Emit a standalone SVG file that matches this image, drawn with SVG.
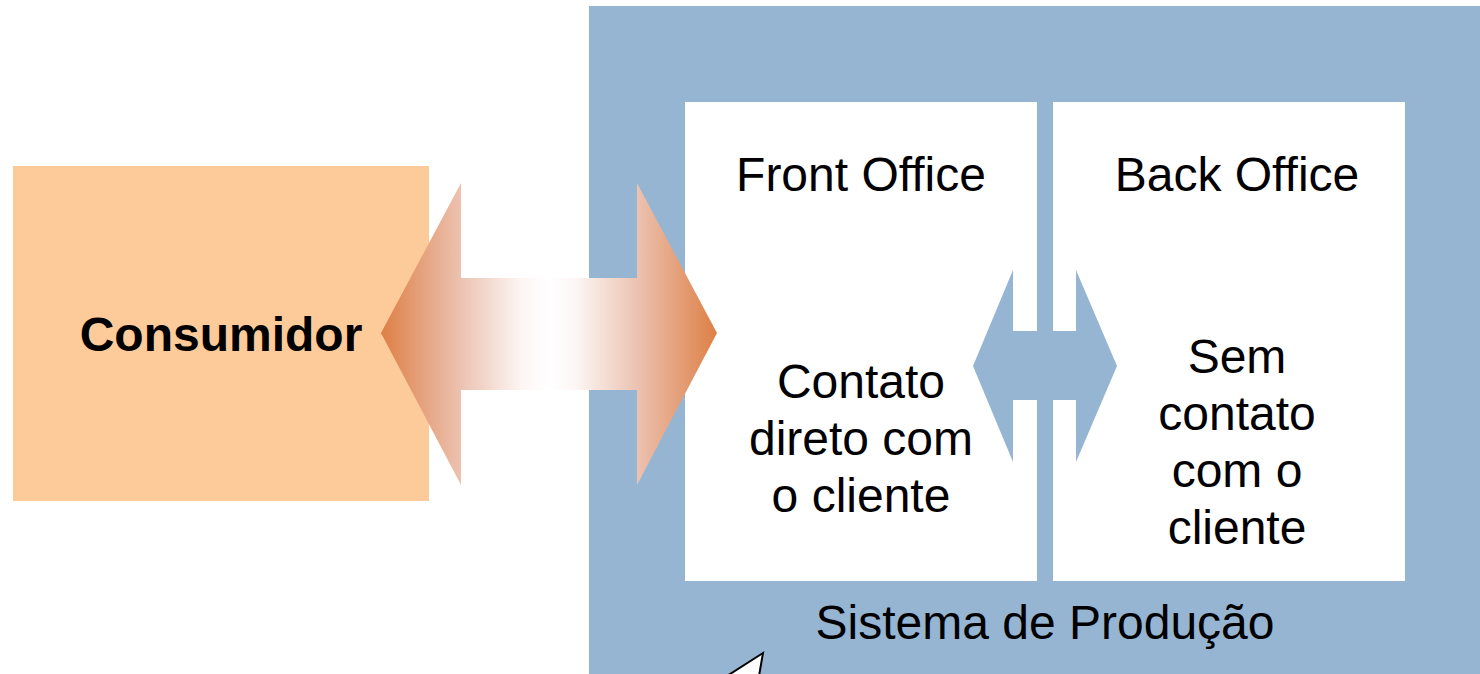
<svg xmlns="http://www.w3.org/2000/svg" width="1480" height="674" viewBox="0 0 1480 674">
<defs>
<style>
.t{font-family:"Liberation Sans",Arial,sans-serif;font-size:48px;fill:#000;text-anchor:middle}
.b{font-weight:bold}
</style>
<linearGradient id="og" x1="381" y1="0" x2="717" y2="0" gradientUnits="userSpaceOnUse">
<stop offset="0" stop-color="#DE7F45"/>
<stop offset="0.24" stop-color="#ECC3B2"/>
<stop offset="0.42" stop-color="#FCF6F4"/>
<stop offset="0.5" stop-color="#FFFFFF"/>
<stop offset="0.58" stop-color="#FCF6F4"/>
<stop offset="0.76" stop-color="#ECC3B2"/>
<stop offset="1" stop-color="#DE7F45"/>
</linearGradient>
</defs>
<rect width="1480" height="674" fill="#fff"/>
<g id="sistema">
<rect x="589" y="6" width="891" height="668" fill="#95B5D3"/>
<text class="t" x="1045" y="639">Sistema de Produção</text>
</g>
<g id="consumidor">
<rect x="13" y="166" width="416" height="335" fill="#FDCB9A"/>
<text class="t b" x="221" y="351">Consumidor</text>
</g>
<g id="front">
<rect x="685" y="102" width="352" height="479" fill="#fff"/>
<text class="t" x="861" y="191">Front Office</text>
<text class="t" x="861" y="398">Contato</text>
<text class="t" x="861" y="455">direto com</text>
<text class="t" x="861" y="512">o cliente</text>
</g>
<g id="back">
<rect x="1053" y="102" width="352" height="479" fill="#fff"/>
<text class="t" x="1237" y="191">Back Office</text>
<text class="t" x="1237" y="373">Sem</text>
<text class="t" x="1237" y="430">contato</text>
<text class="t" x="1237" y="487">com o</text>
<text class="t" x="1237" y="544">cliente</text>
</g>
<g id="connectors">
<polygon points="381,333 461,183 461,278 637,278 637,183 717,333 637,485 637,390 461,390 461,485" fill="url(#og)"/>
<polygon points="973,366 1013,270 1013,331 1076,331 1076,270 1117,366 1076,462 1076,400 1013,400 1013,462" fill="#95B5D3"/>
</g>
<g id="callout">
<polygon points="763,653 727,676 759,676" fill="#fff" stroke="#000" stroke-width="2"/>
</g>
</svg>
